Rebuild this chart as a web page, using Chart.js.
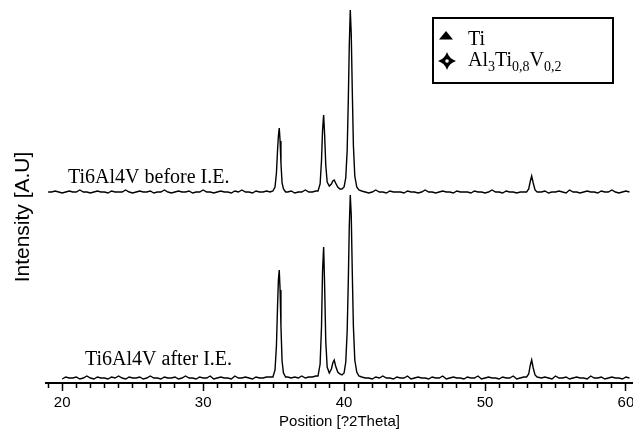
<!DOCTYPE html>
<html>
<head>
<meta charset="utf-8">
<script src="https://cdn.jsdelivr.net/npm/chart.js@4.4.6/dist/chart.umd.min.js"></script>
<style>
  html, body { margin: 0; padding: 0; background: #fff; }
  #wrap { width: 633px; height: 429px; position: relative; }
</style>
</head>
<body>
<div id="wrap"><canvas id="xrd"></canvas></div>
<script>
/* diffraction angle, degrees 2theta */
const twoTheta = [
  19.00, 19.25, 19.50, 19.75, 20.00, 20.25, 20.50, 20.75,
  21.00, 21.25, 21.50, 21.75, 22.00, 22.25, 22.50, 22.75,
  23.00, 23.25, 23.50, 23.75, 24.00, 24.25, 24.50, 24.75,
  25.00, 25.25, 25.50, 25.75, 26.00, 26.25, 26.50, 26.75,
  27.00, 27.25, 27.50, 27.75, 28.00, 28.25, 28.50, 28.75,
  29.00, 29.25, 29.50, 29.75, 30.00, 30.25, 30.50, 30.75,
  31.00, 31.25, 31.50, 31.75, 32.00, 32.25, 32.50, 32.75,
  33.00, 33.25, 33.50, 33.75, 34.00, 34.25, 34.50, 34.75,
  34.95, 35.10, 35.20, 35.28, 35.34, 35.40, 35.46, 35.52, 35.60, 35.70, 35.85,
  36.00, 36.25, 36.50, 36.75, 37.00, 37.25, 37.50, 37.75, 38.00,
  38.15, 38.30, 38.40, 38.47, 38.55, 38.62, 38.70, 38.80,
  38.95, 39.10, 39.20, 39.30, 39.40, 39.55, 39.70, 39.85,
  40.00, 40.12, 40.22, 40.30, 40.37, 40.44, 40.51, 40.58, 40.66, 40.76, 40.90, 41.05,
  41.25, 41.50, 41.75, 42.00, 42.25, 42.50, 42.75, 43.00,
  43.25, 43.50, 43.75, 44.00, 44.25, 44.50, 44.75, 45.00,
  45.25, 45.50, 45.75, 46.00, 46.25, 46.50, 46.75, 47.00,
  47.25, 47.50, 47.75, 48.00, 48.25, 48.50, 48.75, 49.00,
  49.25, 49.50, 49.75, 50.00, 50.25, 50.50, 50.75, 51.00,
  51.25, 51.50, 51.75, 52.00, 52.25, 52.50, 52.75,
  52.95, 53.10, 53.20, 53.31, 53.42, 53.55, 53.70,
  54.00, 54.25, 54.50, 54.75, 55.00, 55.25, 55.50, 55.75,
  56.00, 56.25, 56.50, 56.75, 57.00, 57.25, 57.50, 57.75,
  58.00, 58.25, 58.50, 58.75, 59.00, 59.25, 59.50, 59.75,
  60.00, 60.25
];

/* intensity, before implantation (drawn shifted up by beforeOffset) */
const beforeIE = [
  5, 5, 6, 5, 4, 5, 6, 5,
  5, 7, 5, 5, 4, 5, 6, 5,
  5, 4, 6, 5, 5, 5, 7, 5,
  4, 5, 6, 5, 5, 6, 4, 5,
  5, 7, 5, 4, 5, 6, 5, 5,
  6, 4, 5, 5, 7, 5, 5, 4,
  5, 6, 5, 5, 4, 6, 5, 7,
  5, 5, 4, 6, 5, 5, 6, 5,
  6, 10, 24, 47, 61, 69, 56, 34, 14, 8, 5,
  5, 6, 4, 5, 5, 7, 5, 5, 6,
  6, 13, 37, 66, 82, 62, 32, 15,
  11, 13, 16, 17, 14, 10, 8, 8,
  10, 19, 47, 97, 152, 187, 162, 108, 52, 21, 10, 7,
  6, 5, 4, 5, 7, 5, 5, 4,
  6, 5, 5, 5, 4, 6, 5, 5,
  4, 5, 7, 5, 5, 4, 5, 6,
  5, 5, 4, 6, 5, 5, 5, 4,
  6, 5, 5, 4, 5, 7, 5, 5,
  4, 6, 5, 5, 4, 5, 5,
  5, 8, 15, 21, 14, 7, 5,
  5, 6, 4, 5, 5, 6, 5, 4,
  7, 5, 5, 4, 5, 6, 5, 5,
  4, 6, 5, 5, 7, 5, 4, 5,
  6, 5
];

/* intensity, after implantation */
const afterIE = [
  null, null, null, null, 4, 6, 5, 5,
  6, 4, 5, 7, 5, 4, 6, 5,
  5, 4, 6, 5, 7, 5, 4, 6,
  5, 5, 6, 4, 5, 7, 5, 5,
  4, 6, 5, 5, 6, 4, 5, 7,
  5, 5, 4, 6, 5, 5, 7, 4,
  5, 6, 5, 5, 4, 7, 5, 5,
  6, 5, 4, 6, 5, 5, 6, 6,
  6, 13, 37, 77, 103, 113, 93, 57, 22, 10, 6,
  6, 5, 6, 5, 7, 5, 6, 6, 7,
  7, 19, 57, 111, 136, 97, 42, 16,
  10, 14, 20, 23, 17, 11, 9, 8,
  10, 21, 52, 102, 157, 188, 167, 112, 57, 23, 11, 7,
  6, 5, 5, 4, 6, 5, 7, 5,
  5, 4, 6, 5, 5, 7, 4, 5,
  6, 5, 5, 4, 6, 5, 5, 7,
  4, 5, 6, 5, 5, 4, 6, 5,
  5, 7, 4, 5, 6, 5, 5, 4,
  6, 5, 5, 7, 4, 5, 6,
  6, 9, 17, 23, 15, 8, 6,
  5, 6, 5, 4, 7, 5, 5, 6,
  4, 5, 6, 5, 5, 4, 7, 5,
  5, 6, 4, 5, 6, 5, 5, 4,
  6, 5
];

const beforeOffset = 186;
const sampleLabels = ['Ti6Al4V before I.E.', 'Ti6Al4V after I.E.'];
const xTitle = 'Position [?2Theta]';
const yTitle = 'Intensity [A.U]';
const phaseTi = 'Ti';
// Al3Ti0,8V0,2 split into normal / subscript runs
const phaseAlloy = [['Al', false], ['3', true], ['Ti', false], ['0,8', true], ['V', false], ['0,2', true]];

const toPoints = (ys, shift) => twoTheta.map((x, i) => ({ x: x, y: ys[i] === null ? null : ys[i] + shift }));

const serif = '"Liberation Serif", "Times New Roman", serif';
const sans = '"Liberation Sans", Arial, sans-serif';

// axis title on the left, sample labels and the phase legend box
const overlay = {
  id: 'overlay',
  afterDraw(chart) {
    const ctx = chart.ctx;
    ctx.save();
    ctx.fillStyle = '#000';

    ctx.save();
    ctx.translate(23, 217);
    ctx.rotate(-Math.PI / 2);
    ctx.textAlign = 'center';
    ctx.textBaseline = 'middle';
    ctx.font = '21px ' + sans;
    ctx.fillText(yTitle, 0, 0);
    ctx.restore();

    ctx.textBaseline = 'alphabetic';
    ctx.textAlign = 'left';
    ctx.font = '20px ' + serif;
    ctx.fillText(sampleLabels[0], 68, 183);
    ctx.fillText(sampleLabels[1], 85, 365);

    // legend frame
    ctx.lineWidth = 2;
    ctx.strokeStyle = '#000';
    ctx.strokeRect(433, 18, 180, 65);

    // Ti marker: filled triangle
    ctx.beginPath();
    ctx.moveTo(439, 39.5);
    ctx.lineTo(453, 39.5);
    ctx.lineTo(446, 31);
    ctx.closePath();
    ctx.fill();
    ctx.fillText(phaseTi, 468, 45);

    // alloy marker: four point star with hollow centre
    const cx = 447, cy = 61, r = 9, k = 2.2;
    ctx.beginPath();
    ctx.moveTo(cx, cy - r);
    ctx.quadraticCurveTo(cx + k, cy - k, cx + r, cy);
    ctx.quadraticCurveTo(cx + k, cy + k, cx, cy + r);
    ctx.quadraticCurveTo(cx - k, cy + k, cx - r, cy);
    ctx.quadraticCurveTo(cx - k, cy - k, cx, cy - r);
    ctx.fill();
    ctx.fillStyle = '#fff';
    ctx.beginPath();
    ctx.arc(cx, cy, 1.8, 0, Math.PI * 2);
    ctx.fill();
    ctx.fillStyle = '#000';

    let x = 468;
    phaseAlloy.forEach(([txt, sub]) => {
      ctx.font = (sub ? '14px ' : '20px ') + serif;
      ctx.fillText(txt, x, sub ? 71 : 66);
      x += ctx.measureText(txt).width;
    });
    ctx.restore();
  }
};

new Chart(document.getElementById('xrd'), {
  type: 'line',
  data: {
    datasets: [
      {
        label: sampleLabels[0],
        data: toPoints(beforeIE, beforeOffset),
        borderColor: '#000',
        borderWidth: 1.4,
        pointRadius: 0,
        tension: 0,
        fill: false
      },
      {
        label: sampleLabels[1],
        data: toPoints(afterIE, 0),
        borderColor: '#000',
        borderWidth: 1.4,
        pointRadius: 0,
        tension: 0,
        fill: false
      }
    ]
  },
  options: {
    responsive: true,
    maintainAspectRatio: false,
    animation: false,
    layout: { padding: { left: 46, right: 0, top: 0, bottom: 0 } },
    plugins: {
      legend: { display: false },
      tooltip: { enabled: false }
    },
    scales: {
      x: {
        type: 'linear',
        min: 18.85,
        max: 60.5,
        // let the last label run to the canvas edge like the original
        afterFit: s => { s.paddingLeft = 0; s.paddingRight = 0; },
        border: { display: true, color: '#000', width: 2 },
        grid: {
          drawOnChartArea: false,
          drawTicks: true,
          tickLength: 8,
          tickColor: '#000',
          tickWidth: 1.5,
          tickBorderDash: c => (c.tick && c.tick.value % 10 === 0 ? [] : [4, 40])
        },
        ticks: {
          stepSize: 1,
          autoSkip: false,
          includeBounds: false,
          maxRotation: 0,
          padding: 2.5,
          color: '#000',
          font: { family: sans, size: 15 },
          callback: v => (v % 10 === 0 ? v : '')
        },
        title: {
          display: true,
          text: xTitle,
          color: '#000',
          font: { family: sans, size: 15, lineHeight: 1 },
          padding: { top: 0, bottom: 0 }
        }
      },
      y: {
        display: false,
        min: 0,
        max: 383
      }
    }
  },
  plugins: [overlay]
});
</script>
</body>
</html>
